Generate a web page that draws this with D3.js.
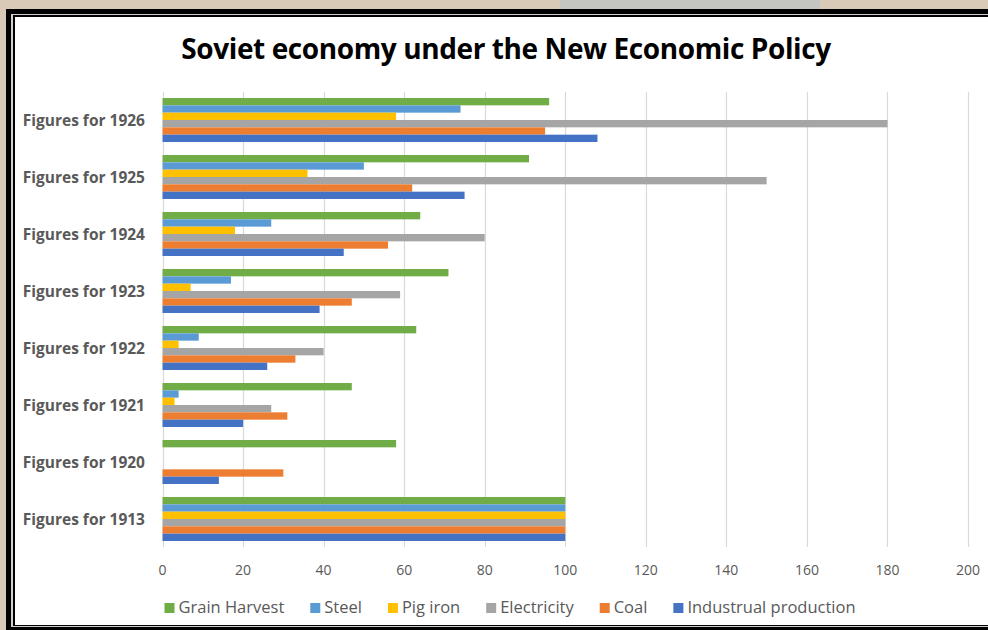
<!DOCTYPE html>
<html><head><meta charset="utf-8">
<script src="https://cdn.jsdelivr.net/npm/d3@7/dist/d3.min.js"></script>
<style>
html,body{margin:0;padding:0;background:#d8cab6;overflow:hidden;}
svg{display:block;}
</style></head>
<body>
<svg id="chart" width="988" height="630"></svg>
<script>
const categories = ["Figures for 1926","Figures for 1925","Figures for 1924","Figures for 1923","Figures for 1922","Figures for 1921","Figures for 1920","Figures for 1913"];
const seriesNames = ["Grain Harvest","Steel","Pig iron","Electricity","Coal","Industrual production"];
const seriesColors = ["#70AD47","#5B9BD5","#FFC000","#A5A5A5","#ED7D31","#4472C4"];
const grainHarvest = [96,91,64,71,63,47,58,100];
const steel = [74,50,27,17,9,4,0,100];
const pigIron = [58,36,18,7,4,3,0,100];
const electricity = [180,150,80,59,40,27,0,100];
const coal = [95,62,56,47,33,31,30,100];
const industrialProduction = [108,75,45,39,26,20,14,100];
const xTicks = [0,20,40,60,80,100,120,140,160,180,200];
const title = "Soviet economy under the New Economic Policy";

const seriesValues = [grainHarvest, steel, pigIron, electricity, coal, industrialProduction];

const svg = d3.select("#chart");
const font = "'Open Sans', 'Noto Sans', sans-serif";
const textColor = "#595959";

// background texture approximation
const bg = svg.append("g");
bg.append("rect").attr("x",0).attr("y",0).attr("width",988).attr("height",630).attr("fill","#d8cab6");
bg.append("rect").attr("x",560).attr("y",0).attr("width",260).attr("height",9).attr("fill","#b9c3c8").attr("opacity",0.6);

// double frame
svg.append("rect").attr("x",6).attr("y",9).attr("width",1100).attr("height",700).attr("fill","#000");
svg.append("rect").attr("x",11).attr("y",14).attr("width",1100).attr("height",613).attr("fill","#d0d0d0");
svg.append("rect").attr("x",13).attr("y",15).attr("width",1100).attr("height",611).attr("fill","#000");
svg.append("rect").attr("x",15).attr("y",17).attr("width",1100).attr("height",608).attr("fill","#fff");

// title
svg.append("text")
  .attr("x",506).attr("y",59)
  .attr("text-anchor","middle")
  .attr("font-family",font).attr("font-weight","bold")
  .attr("font-size",28).attr("fill","#000")
  .attr("letter-spacing",-0.4)
  .text(title);

const x = d3.scaleLinear().domain([0,200]).range([162.5,968]);
const y0 = d3.scaleBand().domain(categories).range([91.5,547.5]).padding(0);
const y1 = d3.scaleBand().domain(seriesNames).range([6.5, y0.bandwidth()-6.5]).padding(0);

// gridlines
svg.append("g").selectAll("line").data(xTicks).join("line")
  .attr("x1",d=>Math.round(x(d))+0.5).attr("x2",d=>Math.round(x(d))+0.5)
  .attr("y1",92).attr("y2",547)
  .attr("stroke","#d9d9d9").attr("stroke-width",1.2);

// x tick labels
svg.append("g").selectAll("text").data(xTicks).join("text")
  .attr("x",d=>x(d)).attr("y",575)
  .attr("text-anchor","middle")
  .attr("font-family",font).attr("font-size",14).attr("fill",textColor)
  .text(d=>d);

// bars
const rows = [];
categories.forEach((c,i)=>{
  seriesNames.forEach((s,j)=>{
    rows.push({cat:c, series:s, value:seriesValues[j][i], color:seriesColors[j]});
  });
});
svg.append("g").selectAll("rect").data(rows.filter(r=>r.value>0)).join("rect")
  .attr("x",x(0))
  .attr("y",d=>y0(d.cat)+y1(d.series))
  .attr("width",d=>x(d.value)-x(0))
  .attr("height",y1.bandwidth())
  .attr("fill",d=>d.color);

// category labels
svg.append("g").selectAll("text").data(categories).join("text")
  .attr("x",145).attr("y",d=>y0(d)+y0.bandwidth()/2)
  .attr("dy","0.36em")
  .attr("text-anchor","end")
  .attr("font-family",font).attr("font-weight","bold")
  .attr("font-size",15.5).attr("fill",textColor)
  .text(d=>d);

// legend
const legend = svg.append("g");
const items = legend.selectAll("g").data(seriesNames).join("g");
items.append("rect").attr("width",10).attr("height",10).attr("y",603)
  .attr("fill",(d,i)=>seriesColors[i]);
items.append("text").attr("x",14).attr("y",613)
  .attr("font-family",font).attr("font-size",16.5).attr("fill",textColor)
  .text(d=>d);
let widths = [];
items.each(function(){ widths.push(d3.select(this).select("text").node().getComputedTextLength()); });
const gap = 26;
const total = widths.reduce((a,w)=>a+14+w,0) + gap*(widths.length-1);
let cx = 510 - total/2;
items.attr("transform",(d,i)=>{ const t = `translate(${cx},0)`; cx += 14+widths[i]+gap; return t; });
</script>
</body></html>
